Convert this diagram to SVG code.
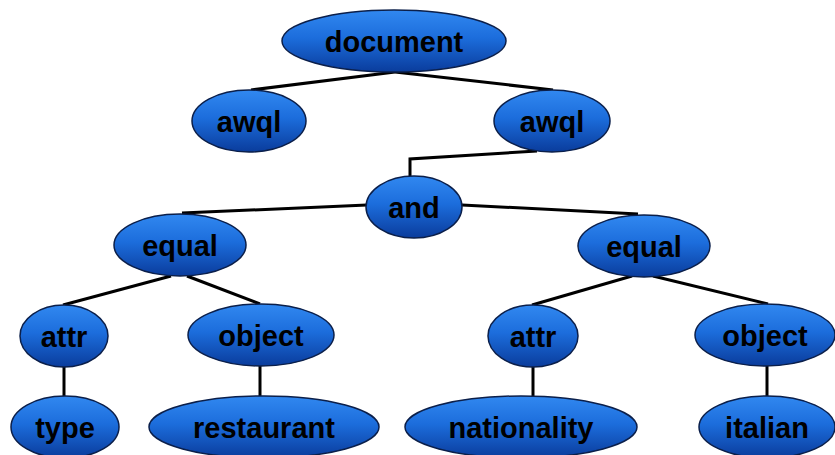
<svg xmlns="http://www.w3.org/2000/svg" width="835" height="455" viewBox="0 0 835 455">
<defs>
<linearGradient id="g" x1="0" y1="0" x2="0" y2="1">
<stop offset="0" stop-color="#3188f0"/>
<stop offset="0.45" stop-color="#1c6ddc"/>
<stop offset="1" stop-color="#0a3c9c"/>
</linearGradient>
</defs>
<style>
.n ellipse{fill:url(#g);stroke:#0b1f4a;stroke-width:1.5}
.n text{font-family:"Liberation Sans",Arial,sans-serif;font-weight:bold;font-size:29px;fill:#000;text-anchor:middle}
.e{fill:none;stroke:#000;stroke-width:3;stroke-linejoin:miter}
</style>
<rect width="835" height="455" fill="#fff"/>
<g id="connectors">
<path class="e" d="M395,72 L251,90"/>
<path class="e" d="M395,72 L553,90"/>
<path class="e" d="M537,151 L410,159 L410,176"/>
<path class="e" d="M367,205 L182,213"/>
<path class="e" d="M462,205 L638,214"/>
<path class="e" d="M171,276 L63,305"/>
<path class="e" d="M187,276 L260,304"/>
<path class="e" d="M632,276 L532,305"/>
<path class="e" d="M653,276 L768,304"/>
<path class="e" d="M64,366 L64,397"/>
<path class="e" d="M260,366 L260,397"/>
<path class="e" d="M533,367 L533,397"/>
<path class="e" d="M767,366 L767,397"/>
</g>
<g id="n-document" class="n"><ellipse cx="394" cy="41" rx="112" ry="31"/><text x="394" y="52">document</text></g>
<g id="n-awql1" class="n"><ellipse cx="249" cy="121" rx="57" ry="31"/><text x="249" y="132">awql</text></g>
<g id="n-awql2" class="n"><ellipse cx="552" cy="121" rx="58" ry="31"/><text x="552" y="132">awql</text></g>
<g id="n-and" class="n"><ellipse cx="414" cy="207" rx="48" ry="31"/><text x="414" y="218">and</text></g>
<g id="n-equal1" class="n"><ellipse cx="180" cy="245" rx="66" ry="31"/><text x="180" y="256">equal</text></g>
<g id="n-equal2" class="n"><ellipse cx="644" cy="246" rx="66" ry="31"/><text x="644" y="257">equal</text></g>
<g id="n-attr1" class="n"><ellipse cx="64" cy="336" rx="44" ry="31"/><text x="64" y="347">attr</text></g>
<g id="n-object1" class="n"><ellipse cx="261" cy="335" rx="73" ry="31"/><text x="261" y="346">object</text></g>
<g id="n-attr2" class="n"><ellipse cx="533" cy="336" rx="45" ry="31"/><text x="533" y="347">attr</text></g>
<g id="n-object2" class="n"><ellipse cx="765" cy="335" rx="70" ry="31"/><text x="765" y="346">object</text></g>
<g id="n-type" class="n"><ellipse cx="65" cy="427" rx="54" ry="31"/><text x="65" y="438">type</text></g>
<g id="n-restaurant" class="n"><ellipse cx="264" cy="427" rx="115" ry="31"/><text x="264" y="438">restaurant</text></g>
<g id="n-nationality" class="n"><ellipse cx="521" cy="427" rx="116" ry="31"/><text x="521" y="438">nationality</text></g>
<g id="n-italian" class="n"><ellipse cx="767" cy="427" rx="68" ry="31"/><text x="767" y="438">italian</text></g>
</svg>
